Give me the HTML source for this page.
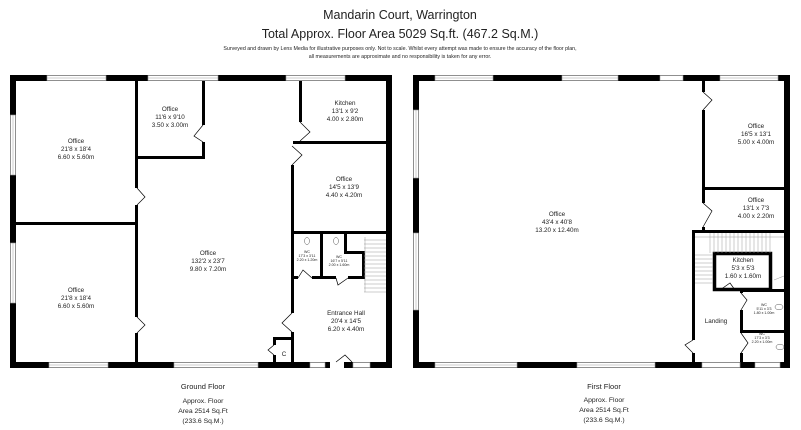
<!DOCTYPE html>
<html><head><meta charset="utf-8"><style>
html,body{margin:0;padding:0;background:#fff}
svg{display:block}
text{font-family:"Liberation Sans",Arial,sans-serif;fill:#222;text-anchor:middle}
.l{font-size:6.3px}
.s{font-size:3.6px}
</style></head><body>
<svg width="801" height="430" viewBox="0 0 801 430" xmlns="http://www.w3.org/2000/svg">
<text x="400" y="19" font-size="12.5">Mandarin Court, Warrington</text>
<text x="400" y="38" font-size="12.5">Total Approx. Floor Area 5029 Sq.ft. (467.2 Sq.M.)</text>
<text x="400" y="50" font-size="5.3">Surveyed and drawn by Lens Media for illustrative purposes only. Not to scale. Whilst every attempt was made to ensure the accuracy of the floor plan,</text>
<text x="400" y="58" font-size="5.3">all measurements are approximate and no responsibility is taken for any error.</text>

<g fill="#000">
<rect x="10" y="75" width="382" height="6"/>
<rect x="10" y="362" width="382" height="6"/>
<rect x="10" y="75" width="6" height="293"/>
<rect x="386" y="75" width="6" height="293"/>
<rect x="135" y="81" width="3" height="107"/>
<rect x="135" y="205" width="3" height="112"/>
<rect x="135" y="333" width="3" height="29"/>
<rect x="16" y="222" width="119" height="3"/>
<rect x="202" y="81" width="3" height="44"/>
<rect x="202" y="142" width="3" height="17"/>
<rect x="135" y="156" width="70" height="3"/>
<rect x="299" y="81" width="3" height="41"/>
<rect x="293" y="141" width="93" height="3"/>
<rect x="291" y="165" width="3" height="148"/>
<rect x="291" y="332" width="3" height="30"/>
<rect x="293" y="231" width="93" height="3"/>
<rect x="320" y="232" width="3" height="46"/>
<rect x="293" y="276" width="5" height="3"/>
<rect x="312" y="276" width="24" height="3"/>
<rect x="348" y="276" width="16" height="3"/>
<rect x="362" y="251" width="3" height="28"/>
<rect x="344" y="232" width="3" height="21"/>
<rect x="344" y="251" width="20" height="3"/>
<rect x="273" y="337" width="20" height="3"/>
<rect x="273" y="337" width="3" height="8"/>
<rect x="273" y="355" width="3" height="7"/>
<rect x="413" y="75" width="377" height="6"/>
<rect x="413" y="362" width="377" height="6"/>
<rect x="413" y="75" width="6" height="293"/>
<rect x="784" y="75" width="6" height="293"/>
<rect x="702" y="81" width="3" height="11"/>
<rect x="702" y="110" width="3" height="93"/>
<rect x="702" y="227" width="3" height="4"/>
<rect x="702" y="187" width="82" height="3"/>
<rect x="692" y="230" width="92" height="3"/>
<rect x="692" y="230" width="3" height="110"/>
<rect x="692" y="353" width="3" height="9"/>
<rect x="740" y="289" width="3" height="4"/>
<rect x="740" y="310" width="3" height="23"/>
<rect x="740" y="353" width="3" height="9"/>
<rect x="740" y="289" width="44" height="3"/>
<rect x="740" y="330" width="44" height="3"/>
</g>
<rect x="714.5" y="253.5" width="56" height="36" fill="none" stroke="#000" stroke-width="3.5"/>

<g fill="#fff" stroke="#999" stroke-width="0.6">
<rect x="47" y="75.5" width="59" height="5"/><rect x="148" y="75.5" width="70" height="5"/><rect x="286" y="75.5" width="59" height="5"/>
<rect x="49" y="362.5" width="59" height="5"/><rect x="174" y="362.5" width="84" height="5"/><rect x="310" y="362.5" width="15" height="5"/><rect x="353" y="362.5" width="17" height="5"/>
<rect x="10.5" y="115" width="5" height="60"/><rect x="10.5" y="243" width="5" height="60"/>
<rect x="435" y="75.5" width="58" height="5"/><rect x="562" y="75.5" width="56" height="5"/><rect x="660" y="75.5" width="23" height="5"/><rect x="720" y="75.5" width="58" height="5"/>
<rect x="435" y="362.5" width="82" height="5"/><rect x="577" y="362.5" width="78" height="5"/><rect x="702" y="362.5" width="38" height="5"/><rect x="755" y="362.5" width="25" height="5"/>
<rect x="413.5" y="110" width="5" height="68"/><rect x="413.5" y="233" width="5" height="77"/>
</g>
<g stroke="#999" stroke-width="0.5">
<line x1="47" y1="78" x2="106" y2="78"/><line x1="148" y1="78" x2="218" y2="78"/><line x1="286" y1="78" x2="345" y2="78"/>
<line x1="49" y1="365" x2="108" y2="365"/><line x1="174" y1="365" x2="258" y2="365"/>
<line x1="13" y1="115" x2="13" y2="175"/><line x1="13" y1="243" x2="13" y2="303"/>
<line x1="435" y1="78" x2="493" y2="78"/><line x1="562" y1="78" x2="618" y2="78"/><line x1="720" y1="78" x2="778" y2="78"/>
<line x1="435" y1="365" x2="517" y2="365"/><line x1="577" y1="365" x2="655" y2="365"/>
<line x1="416" y1="110" x2="416" y2="178"/><line x1="416" y1="233" x2="416" y2="310"/>
</g>
<rect x="330" y="362" width="14" height="6" fill="#fff"/>
<g fill="none" stroke="#000" stroke-width="0.7">
<path d="M137 188 L145 197 L137 205"/><path d="M137 317 L145 325 L137 333"/>
<path d="M203 125 L194 136 L203 142"/><path d="M300 122 L310 132 L300 141"/>
<path d="M292 146 L302 155 L292 165"/><path d="M292 313 L282 323 L292 332"/>
<path d="M274 345 L268 350 L274 355"/><path d="M336 362 L345 355 L352 362"/>
<path d="M298 278 L303 270 L312 278"/><path d="M336 278 L338 285 L348 278"/>
<path d="M703 92 L712 100 L703 110"/><path d="M703 203 L712 211 L703 227"/>
<path d="M693 340 L685 345 L693 353"/><path d="M741 293 L747 300 L741 310"/>
<path d="M741 333 L748 343 L741 353"/><path d="M720 290 L730 283 L735 290"/>
</g>
<g stroke="#999" stroke-width="0.5">
<path d="M365 237 V292 M364 240 H386 M364 244 H386 M364 248 H386 M364 252 H386 M364 256 H386 M364 260 H386 M364 264 H386 M364 268 H386 M364 272 H386 M364 276 H386 M364 280 H386 M364 284 H386 M364 288 H386 M364 292 H386"/>
<path d="M695 237 H784 M710 233 V253 M714 233 V253 M718 233 V253 M722 233 V253 M726 233 V253 M730 233 V253 M734 233 V253 M738 233 V253 M742 233 V253 M746 233 V253 M750 233 V253 M754 233 V253 M758 233 V253 M762 233 V253 M766 233 V253 M770 233 V253 M695 255 H713 M695 259 H713 M695 263 H713 M695 267 H713 M695 271 H713 M695 275 H713 M695 279 H713 M695 283 H713 M774 280 L784 276"/>
</g>
<g fill="none" stroke="#555" stroke-width="0.5">
<ellipse cx="307" cy="241" rx="2.5" ry="3.5"/><ellipse cx="336" cy="241" rx="2.5" ry="3.5"/>
<ellipse cx="779" cy="307" rx="4" ry="2.8"/><ellipse cx="780" cy="347" rx="4" ry="2.8"/>
</g>

<g class="l">
<text x="76" y="143">Office</text><text x="76" y="151">21'8 x 18'4</text><text x="76" y="159">6.60 x 5.60m</text>
<text x="76" y="292">Office</text><text x="76" y="300">21'8 x 18'4</text><text x="76" y="308">6.60 x 5.60m</text>
<text x="170" y="111">Office</text><text x="170" y="119">11'6 x 9'10</text><text x="170" y="127">3.50 x 3.00m</text>
<text x="345" y="105">Kitchen</text><text x="345" y="113">13'1 x 9'2</text><text x="345" y="121">4.00 x 2.80m</text>
<text x="344" y="181">Office</text><text x="344" y="189">14'5 x 13'9</text><text x="344" y="197">4.40 x 4.20m</text>
<text x="208" y="255">Office</text><text x="208" y="263">132'2 x 23'7</text><text x="208" y="271">9.80 x 7.20m</text>
<text x="346" y="315">Entrance Hall</text><text x="346" y="323">20'4 x 14'5</text><text x="346" y="331">6.20 x 4.40m</text>
<text x="284" y="356">C</text>
<text x="557" y="216">Office</text><text x="557" y="224">43'4 x 40'8</text><text x="557" y="232">13.20 x 12.40m</text>
<text x="756" y="128">Office</text><text x="756" y="136">16'5 x 13'1</text><text x="756" y="144">5.00 x 4.00m</text>
<text x="756" y="202">Office</text><text x="756" y="210">13'1 x 7'3</text><text x="756" y="218">4.00 x 2.20m</text>
<text x="743" y="262">Kitchen</text><text x="743" y="270">5'3 x 5'3</text><text x="743" y="278">1.60 x 1.60m</text>
<text x="716" y="323">Landing</text>
</g>
<g class="s">
<text x="307" y="253">WC</text><text x="307" y="257">17'3 x 3'11</text><text x="307" y="261">2.20 x 1.20m</text>
<text x="339" y="258">WC</text><text x="339" y="262">16'7 x 5'11</text><text x="339" y="266">2.00 x 1.60m</text>
<text x="764" y="306">WC</text><text x="764" y="310">5'11 x 3'3</text><text x="764" y="314">1.80 x 1.00m</text>
<text x="762" y="335">WC</text><text x="762" y="339">17'3 x 3'3</text><text x="762" y="343">2.20 x 1.00m</text>
</g>

<text x="203" y="389" font-size="7.5">Ground Floor</text>
<text x="203" y="403" font-size="6.8">Approx. Floor</text>
<text x="203" y="413" font-size="6.8">Area 2514 Sq.Ft</text>
<text x="203" y="423" font-size="6.8">(233.6 Sq.M.)</text>
<text x="604" y="389" font-size="7.5">First Floor</text>
<text x="604" y="402" font-size="6.8">Approx. Floor</text>
<text x="604" y="412" font-size="6.8">Area 2514 Sq.Ft</text>
<text x="604" y="422" font-size="6.8">(233.6 Sq.M.)</text>
</svg>
</body></html>
